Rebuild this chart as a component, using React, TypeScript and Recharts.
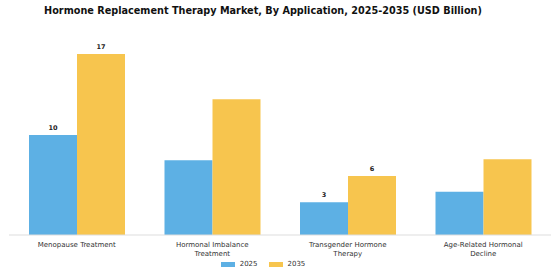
import React from 'react';
import { BarChart, Bar, XAxis, YAxis, Legend, LabelList } from 'recharts';

const categories = [
  'Menopause Treatment',
  'Hormonal Imbalance\nTreatment',
  'Transgender Hormone\nTherapy',
  'Age-Related Hormonal\nDecline',
];
const values2025 = [9.5, 7.1, 3.1, 4.1];
const values2035 = [17.2, 12.9, 5.6, 7.2];
// the source only labels some of the bars
const labelled = [true, false, true, false];

const BLUE = '#5DB0E4';
const ORANGE = '#F7C54E';

const data = categories.map((name, i) => ({
  name,
  y2025: values2025[i],
  y2035: values2035[i],
}));

const CategoryTick = (props: any) => {
  const { x, y, payload } = props;
  const lines = String(payload.value).split('\n');
  return (
    <g transform={`translate(${x},${y})`}>
      {lines.map((line, i) => (
        <text
          key={i}
          x={0}
          y={i * 9}
          dy={3.5}
          textAnchor="middle"
          fontSize={7}
          fill="#333"
          fontFamily="DejaVu Sans"
        >
          {line}
        </text>
      ))}
    </g>
  );
};

const ValueLabel = (props: any) => {
  const { x, y, width, value, index } = props;
  if (!labelled[index]) return null;
  return (
    <text
      x={x + width / 2}
      y={y - 5}
      textAnchor="middle"
      fontSize={6.5}
      fontWeight="bold"
      fill="#222"
      fontFamily="DejaVu Sans"
    >
      {Math.round(value)}
    </text>
  );
};

const LegendContent = () => (
  <div
    style={{
      display: 'flex',
      justifyContent: 'center',
      gap: 11,
      paddingRight: 34,
      fontFamily: 'DejaVu Sans',
      fontSize: 7,
      color: '#333',
    }}
  >
    {[
      ['2025', BLUE],
      ['2035', ORANGE],
    ].map(([label, color]) => (
      <div key={label} style={{ display: 'flex', alignItems: 'center', gap: 5 }}>
        <span style={{ display: 'inline-block', width: 14, height: 5, background: color }} />
        <span>{label}</span>
      </div>
    ))}
  </div>
);

export default function App() {
  return (
    <div style={{ position: 'absolute', left: 0, top: 0, width: 560, height: 280, background: '#fff' }}>
      <div
        style={{
          position: 'absolute',
          top: 5,
          left: -17,
          width: 560,
          textAlign: 'center',
          fontFamily: 'DejaVu Sans',
          fontWeight: 'bold',
          fontSize: 9.7,
          color: '#111',
        }}
      >
        Hormone Replacement Therapy Market, By Application, 2025-2035 (USD Billion)
      </div>
      <BarChart
        width={560}
        height={280}
        data={data}
        margin={{ top: 35, right: 9, left: 9, bottom: 0 }}
        barCategoryGap={20}
        barGap={0}
      >
        <XAxis
          dataKey="name"
          interval={0}
          tick={<CategoryTick />}
          tickLine={false}
          axisLine={{ stroke: '#ddd' }}
          height={24}
        />
        <YAxis hide domain={[0, 19]} />
        <Legend
          verticalAlign="bottom"
          height={21}
          wrapperStyle={{ top: 260 }}
          content={<LegendContent />}
        />
        <Bar dataKey="y2025" name="2025" fill={BLUE} isAnimationActive={false}>
          <LabelList dataKey="y2025" content={<ValueLabel />} />
        </Bar>
        <Bar dataKey="y2035" name="2035" fill={ORANGE} isAnimationActive={false}>
          <LabelList dataKey="y2035" content={<ValueLabel />} />
        </Bar>
      </BarChart>
    </div>
  );
}
